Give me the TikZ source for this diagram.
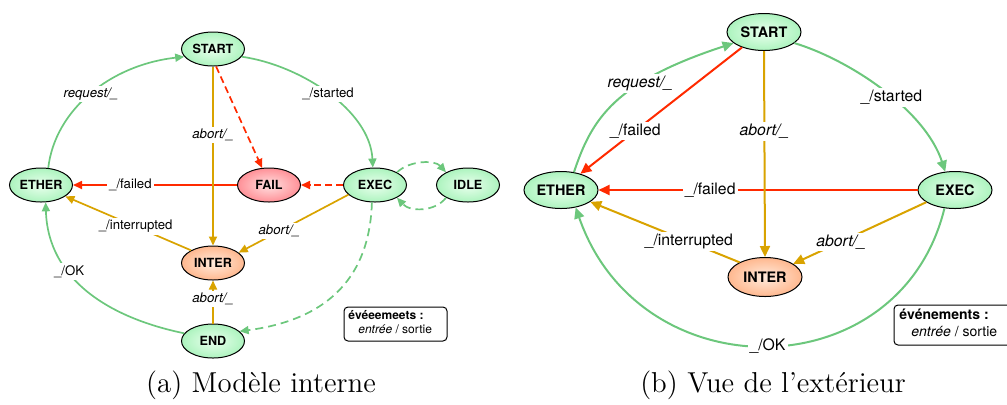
\documentclass[tikz,border=0pt]{standalone}
\usepackage{fontspec}
\setsansfont{TeX Gyre Heros}
\usetikzlibrary{shapes.geometric,arrows.meta}
\definecolor{gA}{HTML}{EAFFEE}
\definecolor{gB}{HTML}{B4F5C4}
\definecolor{gC}{HTML}{5CD97F}
\definecolor{rA}{HTML}{FFE0E0}
\definecolor{rB}{HTML}{FF9AA0}
\definecolor{rC}{HTML}{EE3344}
\definecolor{oA}{HTML}{FFEBDD}
\definecolor{oB}{HTML}{FFBE98}
\definecolor{oC}{HTML}{EE8050}
\definecolor{lgreen}{HTML}{6CC77C}
\definecolor{lorange}{HTML}{D9A300}
\definecolor{lred}{HTML}{FF2A00}
\pgfdeclareradialshading{greenball}{\pgfpoint{0bp}{0bp}}{color(0bp)=(gA); color(22bp)=(gB); color(50bp)=(gC)}
\pgfdeclareradialshading{redball}{\pgfpoint{0bp}{0bp}}{color(0bp)=(rA); color(22bp)=(rB); color(50bp)=(rC)}
\pgfdeclareradialshading{orangeball}{\pgfpoint{0bp}{0bp}}{color(0bp)=(oA); color(22bp)=(oB); color(50bp)=(oC)}
\tikzset{
  st/.style={ellipse, draw=black, line width=0.5pt, shade, inner sep=0pt},
  stA/.style={st, minimum width=31.5pt, minimum height=17pt, font=\sffamily\bfseries\fontsize{6.3}{7}\selectfont},
  stB/.style={st, minimum width=37pt, minimum height=18.5pt, font=\sffamily\bfseries\fontsize{7.2}{8}\selectfont},
  okst/.style={shading=greenball},
  failst/.style={shading=redball},
  interst/.style={shading=orangeball},
  eA/.style={line width=0.85pt, -{Triangle[length=4.5pt,width=4pt]}},
  eB/.style={line width=1pt, -{Triangle[length=5.5pt,width=5pt]}},
  dashR/.style={dash pattern=on 3.5pt off 2pt},
  dashG/.style={dash pattern=on 4pt off 2.5pt},
  labA/.style={fill=white, inner sep=1pt, text=black, font=\sffamily\fontsize{6.6}{8}\selectfont},
  labB/.style={fill=white, inner sep=1pt, text=black, font=\sffamily\fontsize{7.9}{9}\selectfont},
  legbox/.style={draw=black, line width=0.5pt, rounded corners=2pt, fill=white},
  legtxtA/.style={inner sep=0pt, anchor=base west, font=\sffamily\fontsize{6}{7}\selectfont},
  legtxtB/.style={inner sep=0pt, anchor=base west, font=\sffamily\fontsize{7}{8}\selectfont},
  captxt/.style={inner sep=0pt, anchor=base, font=\fontsize{14.4}{17}\selectfont}
}
\begin{document}
\begin{tikzpicture}[x=0.5pt,y=-0.5pt]
\useasboundingbox (0,0) rectangle (1007,404);
% ---------- (a) ----------
\node[stA, okst] (startA) at (213,49) {START};
\node[stA, okst] (ethA) at (41,185) {ETHER};
\node[stA, failst] (failA) at (269,185) {FAIL};
\node[stA, okst] (execA) at (375,185) {EXEC};
\node[stA, okst] (idle) at (468,185) {IDLE};
\node[stA, interst] (interA) at (213,263) {INTER};
\node[stA, okst] (endA) at (213,341) {END};

\draw[eA, lgreen] (ethA.67) .. controls (55,110) and (110,65) .. node[labA,pos=0.5]{\textit{request/\_}} (startA.195);
\draw[eA, lgreen] (startA.345) .. controls (300,65) and (370,110) .. node[labA,pos=0.5]{\_/started} (execA.97);
\draw[eA, lred] (failA.west) -- node[labA,pos=0.65]{\_/failed} (ethA.east);
\draw[eA, lorange] (startA.south) -- node[labA,pos=0.38]{\textit{abort/\_}} (interA.north);
\draw[eA, lred, dashR] (startA.280) -- (failA.112);
\draw[eA, lred, dashR] (execA.west) -- (failA.east);
\draw[eA, lgreen, dashG] (execA.30) .. controls (410,160) and (435,160) .. (idle.150);
\draw[eA, lgreen, dashG] (idle.210) .. controls (435,212) and (410,212) .. (execA.330);
\draw[eA, lorange] (execA.200) -- node[labA,pos=0.63]{\textit{abort/\_}} (interA.22);
\draw[eA, lorange] (interA.150) -- node[labA,pos=0.44]{\_/interrupted} (ethA.335);
\draw[eA, lorange] (endA.north) -- node[labA,pos=0.57]{\textit{abort/\_}} (interA.south);
\draw[eA, lgreen] (endA.165) .. controls (110,318) and (48,280) .. node[labA,pos=0.64]{\_/OK} (ethA.285);
\draw[eA, lgreen, dashG] (execA.260) .. controls (370,265) and (340,318) .. (endA.20);

\node[legbox, minimum width=51.5pt, minimum height=17pt] (legA) at (395.5,324) {};
\node[legtxtA] (legA1) at (348,319) {\bfseries évéeemeets :};
\node[legtxtA] (legA2) at (358,333) {\itshape entrée\upshape{} / sortie};
\node[captxt] (capA) at (261,392) {(a) Modèle interne};

% ---------- (b) ----------
\node[stB, okst] (startB) at (764,32) {START};
\node[stB, okst] (ethB) at (561,190) {ETHER};
\node[stB, okst] (execB) at (955,190) {EXEC};
\node[stB, interst, minimum height=19.5pt] (interB) at (765,277) {INTER};

\draw[eB, lgreen] (ethB.54) .. controls (592,118) and (615,82) .. node[labB,pos=0.65]{\textit{request/\_}} (startB.200);
\draw[eB, lred] (execB.west) -- node[labB,pos=0.65]{\_/failed} (ethB.east);
\draw[eB, lorange] (startB.south) -- node[labB,pos=0.39]{\textit{abort/\_}} (interB.north);
\draw[eB, lred] (startB.215) -- node[labB,pos=0.66]{\_/failed} (ethB.40);
\draw[eB, lgreen] (startB.340) .. controls (850,60) and (925,110) .. node[labB,pos=0.55]{\_/started} (execB.118);
\draw[eB, lorange] (execB.203) -- node[labB,pos=0.64]{\textit{abort/\_}} (interB.25);
\draw[eB, lorange] (interB.150) -- node[labB,pos=0.34]{\_/interrupted} (ethB.338);
\draw[eB, lgreen] (execB.240) .. controls (900,390) and (640,393) .. node[labB,pos=0.5]{\_/OK} (ethB.310);

\node[legbox, minimum width=59pt, minimum height=20pt] (legB) at (953,325) {};
\node[legtxtB] (legB1) at (899,319) {\bfseries événements :};
\node[legtxtB] (legB2) at (911,336) {\itshape entrée\upshape{} / sortie};
\node[captxt] (capB) at (773,392) {(b) Vue de l’extérieur};
\end{tikzpicture}
\end{document}
